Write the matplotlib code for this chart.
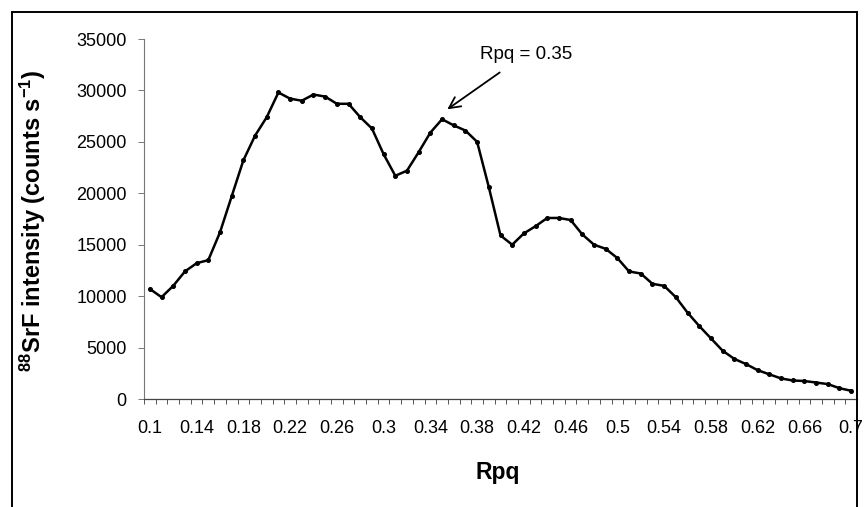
import matplotlib
matplotlib.use("Agg")
import matplotlib.pyplot as plt
from matplotlib.lines import Line2D

rpq = [0.10, 0.11, 0.12, 0.13, 0.14, 0.15, 0.16, 0.17, 0.18, 0.19,
       0.20, 0.21, 0.22, 0.23, 0.24, 0.25, 0.26, 0.27, 0.28, 0.29,
       0.30, 0.31, 0.32, 0.33, 0.34, 0.35, 0.36, 0.37, 0.38, 0.39,
       0.40, 0.41, 0.42, 0.43, 0.44, 0.45, 0.46, 0.47, 0.48, 0.49,
       0.50, 0.51, 0.52, 0.53, 0.54, 0.55, 0.56, 0.57, 0.58, 0.59,
       0.60, 0.61, 0.62, 0.63, 0.64, 0.65, 0.66, 0.67, 0.68, 0.69, 0.70]
intensity = [10700, 9900, 11000, 12400, 13200, 13500, 16200, 19700, 23200, 25600,
             27400, 29800, 29200, 29000, 29600, 29400, 28700, 28700, 27400, 26300,
             23800, 21700, 22200, 24000, 25900, 27200, 26600, 26100, 25000, 20600,
             15900, 15000, 16100, 16800, 17600, 17600, 17400, 16000, 15000, 14600,
             13700, 12400, 12200, 11200, 11000, 9900, 8400, 7100, 5900, 4700,
             3900, 3400, 2800, 2400, 2000, 1800, 1750, 1600, 1450, 1050, 800]
xtick_labels = ["0.1", "0.14", "0.18", "0.22", "0.26", "0.3", "0.34", "0.38",
                "0.42", "0.46", "0.5", "0.54", "0.58", "0.62", "0.66", "0.7"]
xtick_pos = [0.10, 0.14, 0.18, 0.22, 0.26, 0.30, 0.34, 0.38,
             0.42, 0.46, 0.50, 0.54, 0.58, 0.62, 0.66, 0.70]
ytick_pos = [0, 5000, 10000, 15000, 20000, 25000, 30000, 35000]
annot_text = "Rpq = 0.35"

plt.rcParams['font.family'] = ['Liberation Sans', 'DejaVu Sans']

W, H = 864, 507
fig = plt.figure(figsize=(W / 100, H / 100), dpi=100)
fig.patch.set_facecolor('white')

ax_l, ax_r, ax_t, ax_b = 144, 857, 39, 399
ax = fig.add_axes([ax_l / W, 1 - ax_b / H, (ax_r - ax_l) / W, (ax_b - ax_t) / H])

ax.plot(rpq, intensity, color='black', lw=1.8, marker='o', markersize=2.6,
        markerfacecolor='black', markeredgecolor='black')

ax.set_xlim(0.095, 0.705)
ax.set_ylim(0, 35000)

for s in ['top', 'right']:
    ax.spines[s].set_visible(False)
ax.spines['left'].set_color('#777777')
ax.spines['left'].set_linewidth(0.8)
ax.spines['bottom'].set_color('#444444')
ax.spines['bottom'].set_linewidth(0.9)

ax.set_xticks(xtick_pos)
ax.set_xticklabels(xtick_labels)
minor = [0.095 + 0.01 * k for k in range(62)]
ax.set_xticks(minor, minor=True)
ax.tick_params(axis='x', which='major', length=0, pad=15, labelsize=13)
ax.tick_params(axis='x', which='minor', length=3.5, width=0.7, color='#555555', direction='out')

ax.set_yticks(ytick_pos)
ax.set_yticklabels([str(v) for v in ytick_pos])
ax.tick_params(axis='y', which='major', length=4.5, width=0.7, color='#777777',
               direction='out', pad=8, labelsize=13)

fig.text(498 / W, 1 - 472 / H, "Rpq", ha='center', va='center',
         fontsize=16.5, fontweight='bold')
fig.text(33 / W, 1 - 221 / H, r"$\mathregular{^{88}}$SrF intensity (counts s$\mathregular{^{-1}}$)",
         rotation=90, ha='center', va='center', fontsize=17, fontweight='bold')

ax.annotate(annot_text, xy=(0.3545, 28165), xytext=(0.4218, 33540),
            ha='center', va='center', fontsize=13.5,
            arrowprops=dict(arrowstyle='->', color='black', lw=1.3,
                            shrinkA=9, shrinkB=0, mutation_scale=20))

# chart-area frame
fl, fr, ft = 12 / W, 857 / W, 1 - 12 / H
fig.add_artist(Line2D([fl, fl], [0, ft], transform=fig.transFigure, color='black', lw=1.4))
fig.add_artist(Line2D([fl, fr], [ft, ft], transform=fig.transFigure, color='black', lw=1.4))
fig.add_artist(Line2D([fr, fr], [0, ft], transform=fig.transFigure, color='black', lw=1.4))

fig.savefig("out.png", dpi=100)
